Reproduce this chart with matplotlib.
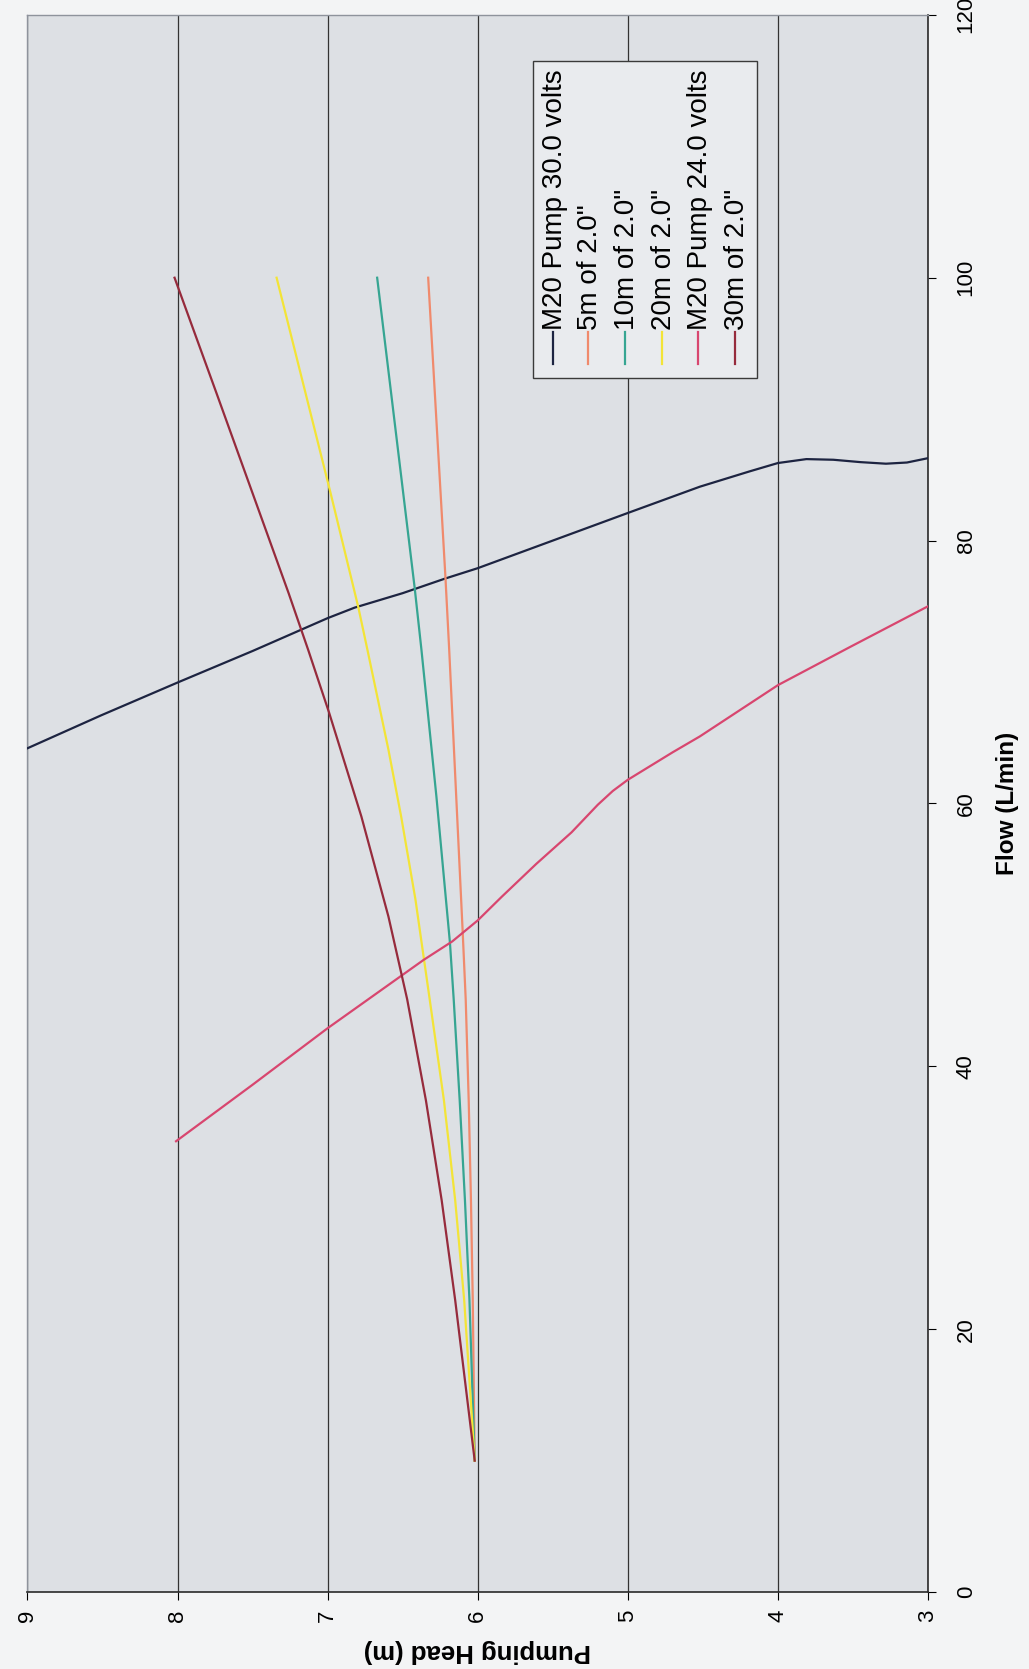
import numpy as np
import matplotlib.pyplot as plt
from matplotlib.patches import Rectangle

plt.rcParams['font.family'] = ['Liberation Sans', 'DejaVu Sans']

# pump curves: flow (L/min) against pumping head (m)
pump30_flow = [64.2, 66.7, 69.2, 71.6, 73.2, 74.1, 74.9, 76.0, 77.1, 77.9, 80.0, 82.1, 84.1,
               85.26, 85.9, 86.2, 86.15, 85.97, 85.85, 85.94, 86.27]
pump30_head = [9.0, 8.51, 8.0, 7.5, 7.18, 7.0, 6.82, 6.5, 6.22, 6.0, 5.5, 5.0, 4.52,
               4.19, 4.0, 3.81, 3.63, 3.45, 3.28, 3.14, 3.0]

pump24_flow = [34.3, 38.6, 42.9, 46.8, 48.1, 49.5, 51.1, 52.9, 55.4, 57.8, 59.9, 60.95, 61.8,
               63.9, 65.1, 69.0, 71.9, 75.0]
pump24_head = [8.01, 7.5, 7.0, 6.52, 6.36, 6.17, 6.0, 5.84, 5.61, 5.375, 5.2, 5.1, 5.0,
               4.70, 4.52, 4.0, 3.52, 3.0]

# system curves for 2.0" pipe runs
sys5_flow = [10, 22.2, 29.8, 37.4, 45.1, 50.2, 71.7, 77.2, 100]
sys5_head = [6.02, 6.033, 6.045, 6.06, 6.08, 6.10, 6.19, 6.215, 6.33]

sys10_flow = [10, 22.2, 29.8, 37.4, 45.1, 49.4, 60.5, 71.7, 76.4, 100]
sys10_head = [6.02, 6.055, 6.085, 6.12, 6.16, 6.185, 6.275, 6.375, 6.42, 6.67]

sys20_flow = [10, 22.2, 29.8, 37.4, 45.1, 52.7, 59.0, 64.1, 71.7, 74.9, 83.6, 100]
sys20_head = [6.02, 6.09, 6.15, 6.225, 6.32, 6.415, 6.51, 6.595, 6.735, 6.795, 6.98, 7.34]

sys30_flow = [10, 22.2, 29.8, 37.4, 45.1, 51.4, 59.0, 66.9, 71.7, 76.0, 83.6, 91.2, 100]
sys30_head = [6.02, 6.15, 6.24, 6.345, 6.47, 6.595, 6.775, 6.99, 7.13, 7.26, 7.50, 7.74, 8.02]

labels = ['M20 Pump 30.0 volts', '5m of 2.0"', '10m of 2.0"', '20m of 2.0"',
          'M20 Pump 24.0 volts', '30m of 2.0"']
colors = ['#1d2441', '#f08a6c', '#36a592', '#f3e437', '#d8466f', '#962b3c']

head_ticks = [3, 4, 5, 6, 7, 8, 9]
flow_ticks = [0, 20, 40, 60, 80, 100, 120]

fig = plt.figure(figsize=(10.29, 16.69), dpi=100)
fig.patch.set_facecolor('#f3f4f5')
ax = fig.add_axes([0.0267, 0.0461, 0.8751, 0.945])
ax.set_facecolor('#dde0e4')

series = [(pump30_flow, pump30_head), (sys5_flow, sys5_head), (sys10_flow, sys10_head),
          (sys20_flow, sys20_head), (pump24_flow, pump24_head), (sys30_flow, sys30_head)]
for (q, h), c in zip(series, colors):
    ax.plot(h, q, color=c, lw=1.6, zorder=3, solid_joinstyle='round')

# sheet is turned on its side: head runs right-to-left, flow runs upward
ax.set_xlim(9, 3)
ax.set_ylim(0, 120)
ax.set_xticks(head_ticks)
ax.set_yticks(flow_ticks)
ax.yaxis.tick_right()
ax.yaxis.set_label_position('right')
ax.tick_params(axis='x', labelrotation=90, labelsize=16, length=6, width=0.8, pad=7)
ax.tick_params(axis='y', labelrotation=90, labelsize=16, length=6, width=0.8, pad=14)
for t in ax.get_yticklabels():
    t.set_va('center')
ax.grid(axis='x', color='#333333', lw=0.9)
ax.set_axisbelow(True)

for side in ['left', 'top']:
    ax.spines[side].set_color('#8e939c')
    ax.spines[side].set_linewidth(1.0)
for side in ['right', 'bottom']:
    ax.spines[side].set_color('#2a2a2a')
    ax.spines[side].set_linewidth(1.2)

ax.set_xlabel('Pumping Head (m)', fontsize=18.5, fontweight='bold', rotation=180, labelpad=12)
ax.set_ylabel('Flow (L/min)', fontsize=17.5, fontweight='bold', rotation=90, labelpad=14)

# legend, laid out sideways to follow the page
ax.add_patch(Rectangle((0.561, 0.770), 0.249, 0.201, transform=ax.transAxes,
                       facecolor='#e9ebee', edgecolor='#3a3a3a', lw=1.0, zorder=5))
entry_x = [0.5836, 0.6225, 0.6636, 0.7047, 0.7447, 0.7858]
for x, c, lab in zip(entry_x, colors, labels):
    ax.plot([x, x], [0.7786, 0.7989], transform=ax.transAxes, color=c, lw=1.6, zorder=6)
    ax.text(x + 0.002, 0.8005, lab, transform=ax.transAxes, rotation=90,
            ha='center', va='bottom', fontsize=20, zorder=6)

fig.savefig('out.png', dpi=100, facecolor=fig.get_facecolor())
